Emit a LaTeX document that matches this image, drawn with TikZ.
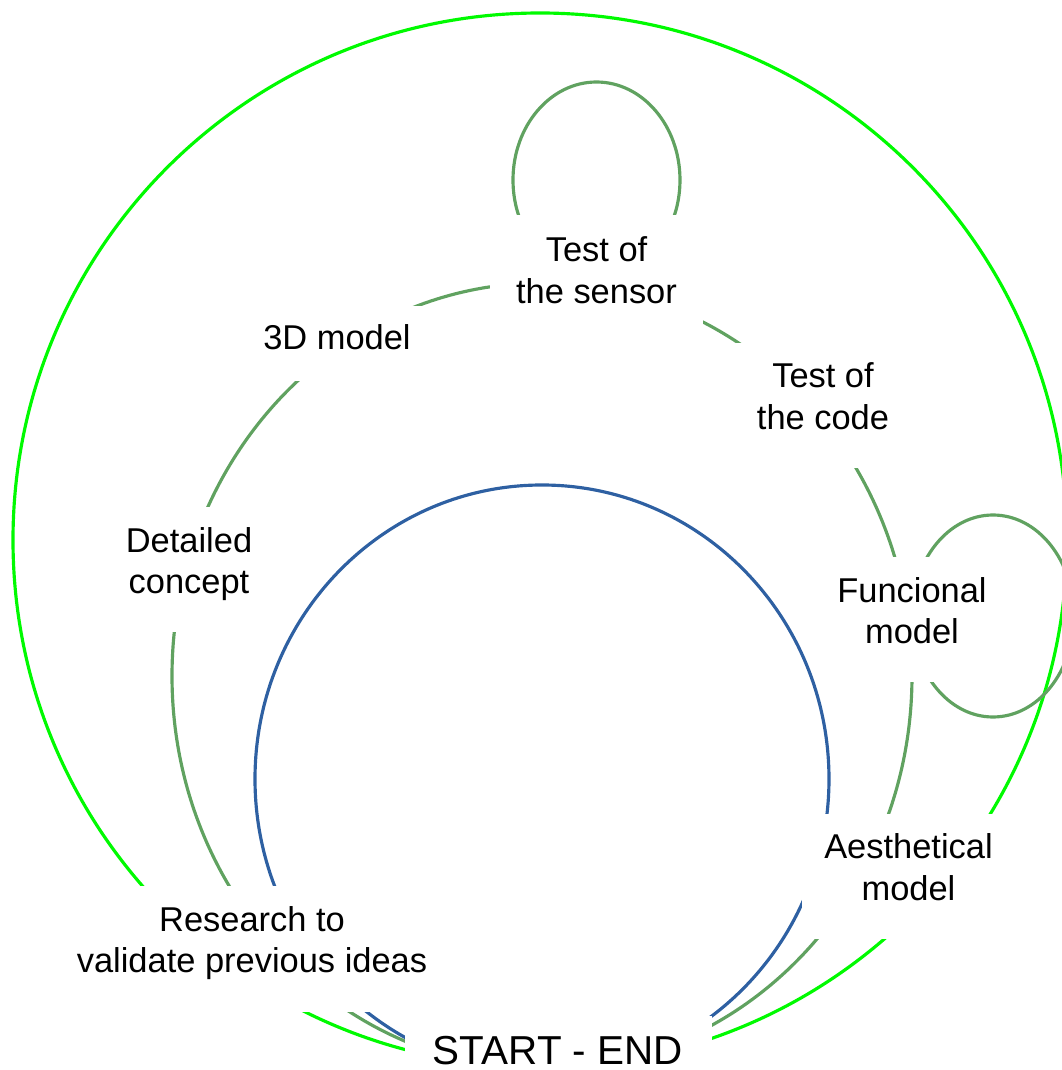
\documentclass[tikz,border=0pt]{standalone}
\usepackage{fontspec}
\setmainfont{Liberation Sans}
\usepackage{xcolor}
\usepackage{tikz}
\usetikzlibrary{positioning,calc}
\definecolor{CycleLime}{RGB}{0,250,0}
\definecolor{CycleGreen}{RGB}{96,162,96}
\definecolor{CycleBlue}{RGB}{46,96,162}
\tikzset{
    ring/.style={line width=0.9pt},
    stage/.style={fill=white, align=center, inner sep=0pt, text depth=0.19cm,
        minimum width=2.13cm, minimum height=1.25cm,
        font=\fontsize{9.8}{11.7}\selectfont}
}

\begin{document}
\begin{tikzpicture}[
        % Vòng lớn, vòng giữa, vòng trong
        outer/.style={ring, draw=CycleLime},
        middle/.style={ring, draw=CycleGreen},
        inner/.style={ring, draw=CycleBlue}
    ]
        \useasboundingbox (0,0) rectangle (10.62,10.70);
        \clip (0,0) rectangle (10.62,10.70);

        % --- CÁC VÒNG ---
        \draw[outer] (5.40,5.30) circle [radius=5.27cm];
        \draw[middle] (5.42,3.94) ellipse [x radius=3.70cm, y radius=3.93cm];
        \draw[inner] (5.42,2.91) ellipse [x radius=2.87cm, y radius=2.94cm];

        % Vòng lặp nhỏ
        \draw[middle] (5.965,8.90) ellipse [x radius=0.835cm, y radius=0.98cm];
        \draw[middle] (9.93,4.54) ellipse [x radius=0.81cm, y radius=1.01cm];

        % --- CÁC BƯỚC ---
        \node[stage, text depth=0.15cm] (sensor) at (5.965,7.925) {Test of\\the sensor};
        \node[stage, text depth=0.12cm, minimum height=0.75cm] (model3d) at (3.37,7.265) {3D model};
        \node[stage] (code) at (8.23,6.645) {Test of\\the code};
        \node[stage, minimum width=1.95cm] (concept) at (1.89,5.00) {Detailed\\concept};
        \node[stage, minimum width=1.9cm] (funcional) at (9.12,4.50) {Funcional\\model};
        \node[stage] (aesth) at (9.085,1.935) {Aesthetical\\model};
        \node[stage, minimum width=3.91cm, minimum height=1.26cm] (research) at (2.52,1.21)
            {Research to\\validate previous ideas};
        \node[stage, text depth=0pt, minimum width=3.07cm, minimum height=0.68cm,
            font=\fontsize{11.5}{13.5}\selectfont] (startend) at (5.58,0.20) {START - END};

    \end{tikzpicture}
\end{document}
